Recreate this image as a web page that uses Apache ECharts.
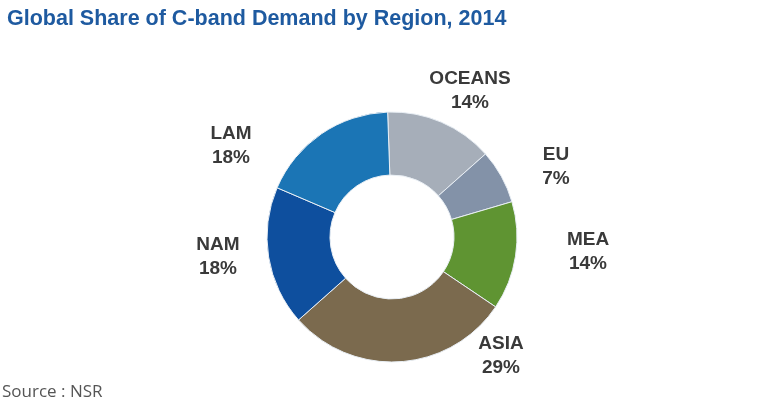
<!DOCTYPE html>
<html>
<head>
<meta charset="utf-8">
<script src="https://cdn.jsdelivr.net/npm/echarts@6/dist/echarts.min.js"></script>
<style>
  html, body { margin: 0; padding: 0; background: #fff; }
  #chart { width: 779px; height: 403px; }
</style>
</head>
<body>
<div id="chart"></div>
<script>
// data (clockwise from the top)
var regions = ['OCEANS', 'EU', 'MEA', 'ASIA', 'NAM', 'LAM'];
var shares = [14, 7, 14, 29, 18, 18];

var colors = ['#a6aeb9', '#8392a8', '#5f9432', '#7b6a4e', '#0e4f9e', '#1b75b5'];
// where each label sits (centre of the two-line text)
var labelPos = [[470, 91], [556, 167], [588, 252], [501, 356], [218, 257], [231, 146]];

var chart = echarts.init(document.getElementById('chart'));

var option = {
  animation: false,
  title: [{
    text: 'Global Share of C-band Demand by Region, 2014',
    left: 7,
    top: 8,
    padding: 0,
    textStyle: {
      fontFamily: 'Liberation Sans',
      fontWeight: 'bold',
      fontSize: 21.5,
      color: '#1e5aa0'
    }
  }, {
    text: 'Source : NSR',
    left: 2,
    top: 384,
    padding: 0,
    textStyle: {
      fontFamily: 'Open Sans',
      fontWeight: 'normal',
      fontSize: 17,
      color: '#555'
    }
  }],
  series: [{
    type: 'pie',
    center: [392, 237],
    radius: [62, 125],
    startAngle: 92,
    clockwise: true,
    data: regions.map(function(name, i) {
      return { name: name, value: shares[i], itemStyle: { color: colors[i] } };
    }),
    itemStyle: {
      borderColor: '#e8eef4',
      borderWidth: 1
    },
    label: {
      show: true,
      position: 'outside',
      formatter: '{b}\n{c}%',
      fontFamily: 'Liberation Sans',
      fontWeight: 'bold',
      fontSize: 19,
      lineHeight: 24,
      color: '#3a3a3a'
    },
    labelLine: { show: false },
    labelLayout: function(params) {
      var p = labelPos[params.dataIndex];
      return { x: p[0], y: p[1], align: 'center', verticalAlign: 'middle' };
    },
    emphasis: { disabled: true }
  }]
};

chart.setOption(option);
</script>
</body>
</html>
